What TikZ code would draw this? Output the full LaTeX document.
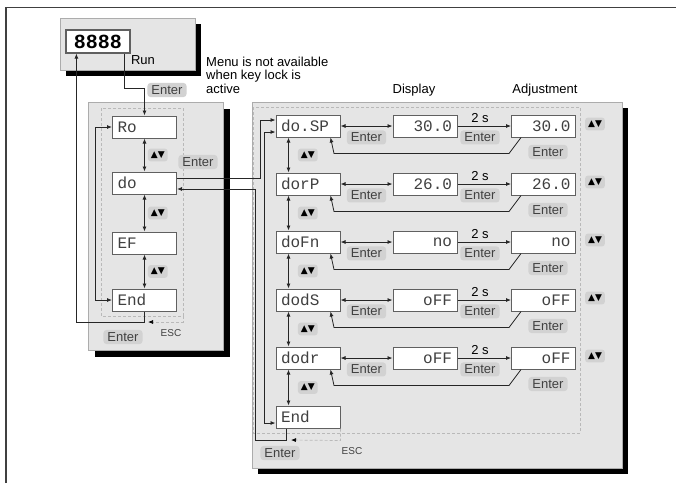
\documentclass[tikz,border=0pt]{standalone}
\usepackage{fontspec}
\setmainfont{Liberation Sans}
\newfontfamily\lcdfont{Liberation Mono}
\newfontfamily\symfont{DejaVu Sans}
\usetikzlibrary{arrows.meta,positioning}

\begin{document}
\begin{tikzpicture}[x=1pt,y=-1pt,
      mypanel/.style={
         draw=gray!65,
         fill=gray!20,
         line width=0.8pt},
      myshadow/.style={fill=black},
      myframe/.style={
         draw=gray!55,
         dash pattern=on 3pt off 2pt,
         line width=0.7pt},
      mybox/.style={
         draw=gray!75!black,
         fill=white,
         line width=1pt,
         inner xsep=5pt,
         inner ysep=0pt,
         text width=54pt,
         minimum height=22pt,
         align=left,
         text=black!75,
         font={\fontsize{16}{16}\lcdfont}},
      myval/.style={mybox, align=right},
      mydisp/.style={
         draw=gray!75!black,
         fill=white,
         line width=1.2pt,
         minimum width=64pt,
         minimum height=23pt,
         inner sep=0pt,
         font={\fontsize{20}{20}\lcdfont\bfseries}},
      mykey/.style={
         fill=gray!35,
         rounded corners=3pt,
         inner xsep=4pt,
         inner ysep=2.5pt,
         text=black!75,
         font={\fontsize{13}{13}\selectfont}},
      myupdn/.style={
         mykey,
         inner xsep=3pt,
         inner ysep=3pt,
         text=black,
         font={\fontsize{9}{9}\symfont}},
      myesc/.style={text=black!75, font={\fontsize{10}{10}\selectfont}},
      mytext/.style={
         inner sep=0pt,
         align=left,
         font={\fontsize{13}{13.5}\selectfont}},
      myarrow/.style={-{Latex[length=5pt,width=4pt]}, draw=black!85, line width=0.8pt},
      mydarrow/.style={{Latex[length=5pt,width=4pt]}-{Latex[length=5pt,width=4pt]}, draw=black!85, line width=0.8pt}
      ]
      \useasboundingbox (0,0) rectangle (676,483);
      \fill[white] (0,0) rectangle (676,483);
      % outer frame
      \draw[black!75, line width=1.8pt] (6,483) -- (6,7.5) -- (676,7.5);
      % panels
      \fill[myshadow] (66,24) rectangle (201,76);
      \draw[mypanel] (60,18) rectangle (195,70);
      \fill[myshadow] (95,109) rectangle (230,357);
      \draw[mypanel] (88,102) rectangle (223,350);
      \fill[myshadow] (258,108) rectangle (628,474);
      \draw[mypanel] (252,102) rectangle (622,468);
      \draw[myframe] (101,108) rectangle (183,316);
      \draw[myframe] (253,107) rectangle (580,433);
      % run display
      \node[mydisp] (disp) at (98,41.5) {8888};
      \node[mytext] (run) at (143,60) {Run};
      \node[mytext, anchor=north west] (note) at (206,56.5) {Menu is not available\\when key lock is\\active};
      \node[mytext] (hdisp) at (414,90) {Display};
      \node[mytext] (hadj) at (545,90) {Adjustment};
      % menu
      \foreach \i/\y/\txt in {1/127/Ro, 2/183/do, 3/243/EF, 4/300/End}
         \node[mybox] (l\i) at (144.5,\y) {\txt};
      \foreach \i/\j in {1/2, 2/3, 3/4}
         \draw[mydarrow] (l\i) -- node[myupdn, right=3pt] {▲▼} (l\j);
      \draw[mydarrow] (l1.west) -- ++(-17,0) |- (l4.west);
      \draw[myarrow] ([xshift=-6pt]disp.south east) -- ++(0,35) -| (l1.north);
      \draw[myarrow] (l4.south) -- ++(0,11) -| ([xshift=11pt]disp.south west);
      \draw[myframe, -{Latex[length=5pt,width=4pt,black]}] (183,316) -- (183,322) -- (148,322);
      \node[mykey] (k1) at (167,90) {Enter};
      \node[mykey] (k2) at (198,162) {Enter};
      \node[mykey] (k3) at (123,337) {Enter};
      \node[myesc] (e1) at (171,333) {ESC};
      % do submenu
      \foreach \i/\y/\nm/\val in {
         1/126/do.SP/30.0,
         2/184/dorP/26.0,
         3/242/doFn/no,
         4/300/dodS/oFF,
         5/358/dodr/oFF}{
         \node[mybox] (r\i) at (308,\y) {\nm};
         \node[myval] (d\i) at (425,\y) {\val};
         \node[myval] (a\i) at (543.5,\y) {\val};
         \node[myupdn] at (595,\y-2) {▲▼};
         \node[mykey] at (548,\y+26) {Enter};
         \draw[mydarrow] (r\i) -- node[mykey, below=4pt] {Enter} (d\i);
         \draw[myarrow] (d\i) -- node[pos=0.42, above, font={\fontsize{13}{13}\selectfont}] {2 s}
            node[pos=0.42, mykey, below=4pt] {Enter} (a\i);
         \draw[myarrow] ([xshift=10pt]a\i.south west) -- ++(-12,16) -- ++(-175,0) -- ([xshift=-10pt]r\i.south east);
      }
      \node[mybox] (r6) at (308,417) {End};
      \foreach \i/\j in {1/2, 2/3, 3/4, 4/5, 5/6}
         \draw[mydarrow] ([xshift=13pt]r\i.south west) -- node[myupdn, right=9pt] {▲▼} ([xshift=13pt]r\j.north west);
      \draw[mydarrow] ([yshift=-6pt]r1.west) -- ++(-11,0) |- ([yshift=-6pt]r6.west);
      \draw[myarrow] ([yshift=5pt]l2.east) -- ++(83,0) |- ([yshift=6pt]r1.west);
      \draw[myarrow] ([xshift=11pt]r6.south west) -- ++(0,12) -- ++(-31,0) |- ([yshift=-6pt]l2.east);
      \draw[myframe, -{Latex[length=5pt,width=4pt,black]}] (r6.south east) -- ++(0,12) -- (291,440);
      \node[mykey] (k4) at (280,453) {Enter};
      \node[myesc] (e2) at (352,451) {ESC};
\end{tikzpicture}
\end{document}
